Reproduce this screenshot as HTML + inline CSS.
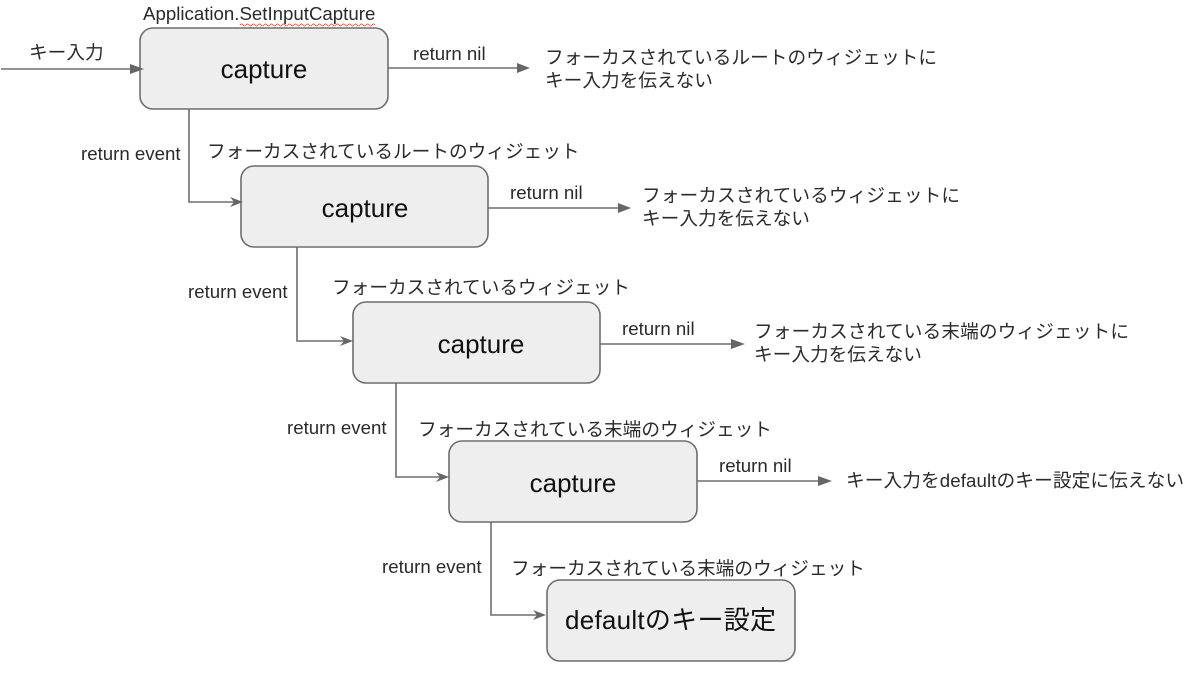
<!DOCTYPE html>
<html lang="ja">
<head>
<meta charset="utf-8">
<style>
html,body{margin:0;padding:0;background:#fff;width:1200px;height:674px;overflow:hidden}
svg{display:block}
text{font-family:"Liberation Sans","Noto Sans CJK JP",sans-serif;font-size:18.67px;fill:#2a2a2a}
.b{font-size:26px;fill:#111;text-anchor:middle}
rect{fill:#eeeeee;stroke:#6e6e6e;stroke-width:1.6}
.l{fill:none;stroke:#6e6e6e;stroke-width:1.6}
.a{fill:#666}
</style>
</head>
<body>
<svg width="1200" height="674" viewBox="0 0 1200 674" xmlns="http://www.w3.org/2000/svg">
<rect x="140" y="28" width="248" height="81" rx="13"/>
<rect x="241" y="166" width="247" height="81" rx="13"/>
<rect x="353" y="302" width="247" height="81" rx="13"/>
<rect x="449" y="441" width="248" height="81" rx="13"/>
<rect x="547" y="580" width="248" height="81" rx="13"/>

<path class="l" d="M1 69H132"/><path class="a" d="M130 64L144 69L130 74Z"/>
<path class="l" d="M388 68H518"/><path class="a" d="M517 63L530 68L517 73Z"/>
<path class="l" d="M488 208H620"/><path class="a" d="M618 203L631 208L618 213Z"/>
<path class="l" d="M600 344H732"/><path class="a" d="M731 339L745 344L731 349Z"/>
<path class="l" d="M697 481H820"/><path class="a" d="M818 476L832 481L818 486Z"/>

<path class="l" d="M189 109V202H236"/><path class="a" d="M230 197L243 202L230 207L234 202Z"/>
<path class="l" d="M297 247V341H347"/><path class="a" d="M340 336L353 341L340 346L344 341Z"/>
<path class="l" d="M396 383V477H443"/><path class="a" d="M436 472L449 477L436 482L440 477Z"/>
<path class="l" d="M491 522V615H540"/><path class="a" d="M533 610L546 615L533 620L537 615Z"/>

<text class="b" x="264" y="78">capture</text>
<text class="b" x="365" y="217">capture</text>
<text class="b" x="481" y="353">capture</text>
<text class="b" x="573" y="492">capture</text>
<text class="b" x="670.5" y="629" textLength="211">defaultのキー設定</text>

<text x="143" y="20">Application.SetInputCapture</text>
<path d="M240 25q1.5-2 3 0t3 0 3 0 3 0 3 0 3 0 3 0 3 0 3 0 3 0 3 0 3 0 3 0 3 0 3 0 3 0 3 0 3 0 3 0 3 0 3 0 3 0 3 0 3 0 3 0 3 0 3 0 3 0 3 0 3 0 3 0 3 0 3 0 3 0 3 0 3 0 3 0 3 0 3 0 3 0 3 0 3 0 3 0 3 0 3 0" fill="none" stroke="#e0675c" stroke-width="1"/>
<text x="29" y="59">キー入力</text>
<text x="413" y="60">return nil</text>
<text x="510" y="199">return nil</text>
<text x="622" y="335">return nil</text>
<text x="719" y="472">return nil</text>
<text x="81" y="160">return event</text>
<text x="188" y="298">return event</text>
<text x="287" y="434">return event</text>
<text x="382" y="573">return event</text>
<text x="207" y="158">フォーカスされているルートのウィジェット</text>
<text x="332" y="294">フォーカスされているウィジェット</text>
<text x="418" y="436">フォーカスされている末端のウィジェット</text>
<text x="511" y="575">フォーカスされている末端のウィジェット</text>
<text x="545" y="64" textLength="392">フォーカスされているルートのウィジェットに</text>
<text x="545" y="87">キー入力を伝えない</text>
<text x="642" y="202" textLength="318">フォーカスされているウィジェットに</text>
<text x="642" y="225">キー入力を伝えない</text>
<text x="754" y="338" textLength="375">フォーカスされている末端のウィジェットに</text>
<text x="754" y="361">キー入力を伝えない</text>
<text x="846" y="487" textLength="338">キー入力をdefaultのキー設定に伝えない</text>
</svg>
</body>
</html>
